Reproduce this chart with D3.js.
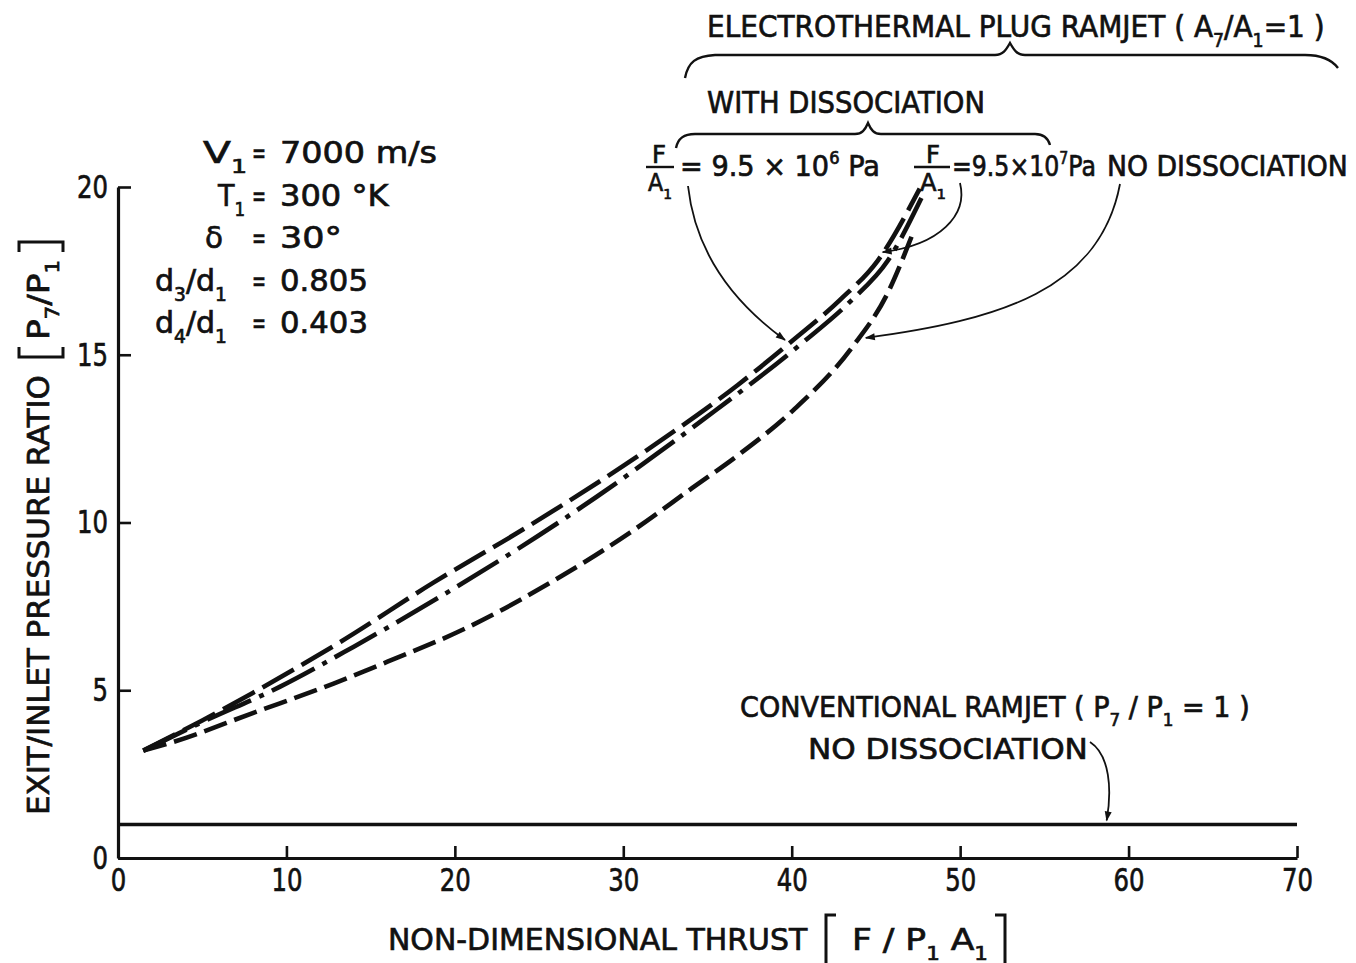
<!DOCTYPE html>
<html>
<head>
<meta charset="utf-8">
<script src="https://cdn.jsdelivr.net/npm/d3@7/dist/d3.min.js"></script>
<style>
  html, body { margin: 0; padding: 0; background: #fff; }
  svg { display: block; }
  text { font-family: "DejaVu Sans", "Liberation Sans", sans-serif; fill: #111; stroke: #111; stroke-width: 0.7px; }
</style>
</head>
<body>
<svg id="chart" width="1356" height="963"></svg>
<script>
// Axis ticks
const xTicks = [0, 10, 20, 30, 40, 50, 60, 70];
const yTicks = [0, 5, 10, 15, 20];

// Electrothermal plug ramjet, with dissociation, F/A1 = 9.5e6 Pa (long dash)
const thrustA = [1.5, 5, 8, 13.2, 18.7, 24.3, 31.4, 36.8, 40, 42.9, 45.1, 47.6];
const ratioA  = [3.2, 4.1, 4.92, 6.44, 8.2, 9.87, 12.16, 14.1, 15.4, 16.65, 17.8, 19.95];

// With dissociation, F/A1 = 9.5e7 Pa (dash-dot)
const thrustB = [1.5, 5, 9.6, 14, 19.1, 28.4, 34.7, 40.5, 43.5, 45.7, 47.7];
const ratioB  = [3.2, 4.05, 5.1, 6.3, 7.78, 10.76, 13.05, 15.3, 16.6, 17.8, 19.67];

// No dissociation (short dash)
const thrustC = [1.5, 3.3, 8, 12.8, 16, 20.7, 25.65, 30.4, 34.1, 36.8, 40.1, 43.6, 45.7, 47.2];
const ratioC  = [3.2, 3.46, 4.32, 5.2, 5.85, 6.86, 8.2, 9.7, 11.03, 12.0, 13.35, 15.23, 16.84, 18.63];

// Conventional ramjet, P7/P1 = 1
const thrustConv = [0, 70];
const ratioConv  = [1, 1];

const svg = d3.select("#chart");
const x = d3.scaleLinear().domain([0, 70]).range([118, 1297]);
const y = d3.scaleLinear().domain([0, 20]).range([858, 187]);

const zip = (xs, ys) => xs.map((v, i) => [v, ys[i]]);
const line = d3.line().x(d => x(d[0])).y(d => y(d[1])).curve(d3.curveMonotoneX);

// arrow head marker
const defs = svg.append("defs");
defs.append("marker")
  .attr("id", "arrow").attr("viewBox", "0 0 10 10")
  .attr("refX", 9).attr("refY", 5)
  .attr("markerWidth", 14).attr("markerHeight", 10)
  .attr("markerUnits", "userSpaceOnUse")
  .attr("orient", "auto")
  .append("path").attr("d", "M0,1.5 L10,5 L0,8.5 Z").attr("fill", "#111");

// ---- axes ----
const xAxis = svg.append("g").attr("transform", `translate(0,${y(0)})`)
  .call(d3.axisBottom(x).tickValues(xTicks).tickSizeInner(-12).tickSizeOuter(0).tickPadding(10).tickFormat(d3.format("d")));
const yAxis = svg.append("g").attr("transform", `translate(${x(0)},0)`)
  .call(d3.axisLeft(y).tickValues(yTicks).tickSizeInner(-13).tickSizeOuter(0).tickPadding(10).tickFormat(d3.format("d")));

[xAxis, yAxis].forEach(a => {
  a.select(".domain").attr("stroke", "#111").attr("stroke-width", 3.2);
  a.selectAll(".tick line").attr("stroke", "#111").attr("stroke-width", 2.6);
  a.selectAll(".tick text").attr("font-size", 32).attr("fill", "#111")
    .attr("font-family", "DejaVu Sans");
});
xAxis.selectAll(".tick text").attr("dy", "0.72em");
// condense tick digits to the lettering width
[xAxis, yAxis].forEach(a => a.selectAll(".tick text").each(function () {
  const n = this.textContent.length;
  d3.select(this).attr("textLength", n * 15.5).attr("lengthAdjust", "spacingAndGlyphs");
}));

// ---- curves ----
const curves = svg.append("g").attr("fill", "none").attr("stroke", "#111");
curves.append("path").attr("d", line(zip(thrustConv, ratioConv)))
  .attr("stroke-width", 3.6);
curves.append("path").attr("d", line(zip(thrustA, ratioA)))
  .attr("stroke-width", 4.6).attr("stroke-dasharray", "36,9");
curves.append("path").attr("d", line(zip(thrustB, ratioB)))
  .attr("stroke-width", 4.6).attr("stroke-dasharray", "48,9,5,9");
curves.append("path").attr("d", line(zip(thrustC, ratioC)))
  .attr("stroke-width", 4.6).attr("stroke-dasharray", "24,8");

// ---- text helpers ----
// parts: [text, "n" | "sub" | "sup"]; the run is scaled horizontally to `width`
function label(parent, x0, y0, parts, size, width) {
  const t = parent.append("text").attr("x", x0).attr("y", y0).attr("font-size", size);
  let shift = 0;
  parts.forEach(([s, kind]) => {
    const ts = t.append("tspan").text(s);
    let target = 0, fs = size;
    if (kind === "sub") { target = size * 0.32; fs = size * 0.62; }
    if (kind === "sup") { target = -size * 0.42; fs = size * 0.6; }
    ts.attr("dy", target - shift).attr("font-size", fs);
    shift = target;
  });
  if (width) {
    const w = t.node().getBBox().width;
    const sx = width / w;
    t.attr("transform", `translate(${x0},0) scale(${sx},1) translate(${-x0},0)`);
  }
  return t;
}
function rule(parent, x1, y1, x2, y2, w) {
  parent.append("line").attr("x1", x1).attr("y1", y1).attr("x2", x2).attr("y2", y2)
    .attr("stroke", "#111").attr("stroke-width", w || 2.4);
}

const ann = svg.append("g");

// ---- header braces and labels ----
label(ann, 707, 37, [["ELECTROTHERMAL  PLUG RAMJET ( A", "n"], ["7", "sub"], ["/A", "n"], ["1", "sub"], ["=1 )", "n"]], 30, 618);
ann.append("path")
  .attr("d", "M685,78 C688,62 696,56 715,55 L995,55 C1003,55 1006,50 1010,43 C1014,50 1017,55 1025,55 L1305,55 C1322,55 1332,60 1338,68")
  .attr("fill", "none").attr("stroke", "#111").attr("stroke-width", 2.4);

label(ann, 707, 113, [["WITH DISSOCIATION", "n"]], 30, 278);
ann.append("path")
  .attr("d", "M676,148 C678,138 684,134 695,134 L855,134 C862,134 865,130 868,123 C871,130 874,134 881,134 L1035,134 C1043,134 1048,138 1050,145")
  .attr("fill", "none").attr("stroke", "#111").attr("stroke-width", 2.4);

// F/A1 = 9.5 x 10^6 Pa
label(ann, 652, 163, [["F", "n"]], 24, 14);
rule(ann, 646, 167, 674, 167, 2.4);
label(ann, 648, 191, [["A", "n"], ["1", "sub"]], 24, 24);
label(ann, 680, 176, [["= 9.5 × 10", "n"], ["6", "sup"], [" Pa", "n"]], 28, 200);

// F/A1 = 9.5 x 10^7 Pa  NO DISSOCIATION
label(ann, 926, 163, [["F", "n"]], 24, 14);
rule(ann, 914, 167, 950, 167, 2.4);
label(ann, 920, 191, [["A", "n"], ["1", "sub"]], 24, 26);
label(ann, 952, 176, [["=9.5×10", "n"], ["7", "sup"], ["Pa", "n"]], 28, 144);
label(ann, 1107, 176, [["NO DISSOCIATION", "n"]], 28, 241);

// ---- flight condition block ----
label(ann, 203, 163, [["V", "n"], ["1", "sub"]], 30, 44);
label(ann, 218, 206, [["T", "n"], ["1", "sub"]], 30, 28);
label(ann, 205, 248, [["δ", "n"]], 30, 18);
label(ann, 155, 291, [["d", "n"], ["3", "sub"], ["/d", "n"], ["1", "sub"]], 30, 72);
label(ann, 155, 333, [["d", "n"], ["4", "sub"], ["/d", "n"], ["1", "sub"]], 30, 72);
[163, 206, 248, 291, 333].forEach(b => label(ann, 252, b, [["=", "n"]], 30, 14));
label(ann, 280, 163, [["7000 m/s", "n"]], 30, 157);
label(ann, 280, 206, [["300 °K", "n"]], 30, 110);
label(ann, 280, 248, [["30°", "n"]], 30, 62);
label(ann, 280, 291, [["0.805", "n"]], 30, 88);
label(ann, 280, 333, [["0.403", "n"]], 30, 88);

// ---- conventional ramjet ----
label(ann, 740, 717, [["CONVENTIONAL  RAMJET ( P", "n"], ["7", "sub"], [" / P", "n"], ["1", "sub"], [" = 1 )", "n"]], 28, 510);
label(ann, 808, 759, [["NO  DISSOCIATION", "n"]], 28, 280);

// ---- axis titles ----
label(svg, 388, 950, [["NON-DIMENSIONAL  THRUST", "n"]], 30, 420);
label(svg, 852, 950, [["F  /  P", "n"], ["1", "sub"], [" A", "n"], ["1", "sub"]], 30, 136);
// brackets
svg.append("path").attr("d", "M836,915 L826,915 L826,965 L836,965").attr("fill", "none").attr("stroke", "#111").attr("stroke-width", 3);
svg.append("path").attr("d", "M995,915 L1005,915 L1005,965 L995,965").attr("fill", "none").attr("stroke", "#111").attr("stroke-width", 3);

const yt = svg.append("g").attr("transform", "translate(49,815) rotate(-90)");
label(yt, 0, 0, [["EXIT/INLET  PRESSURE  RATIO", "n"]], 30, 440);
label(yt, 475, 0, [["P", "n"], ["7", "sub"], ["/P", "n"], ["1", "sub"]], 30, 80);
yt.append("path").attr("d", "M468,-30 L458,-30 L458,14 L468,14").attr("fill", "none").attr("stroke", "#111").attr("stroke-width", 3);
yt.append("path").attr("d", "M563,-30 L573,-30 L573,14 L563,14").attr("fill", "none").attr("stroke", "#111").attr("stroke-width", 3);

// ---- leader arrows to the curves ----
const leaders = svg.append("g").attr("fill", "none").attr("stroke", "#111").attr("stroke-width", 1.8);
const tipA = [x(39.6), y(15.44)];
const tipB = [x(45.4), y(18.06)];
const tipC = [x(44.4), y(15.5)];
const tipConv = [x(58.7), y(1.12)];
leaders.append("path").attr("d", `M688,186 C695,250 730,300 ${tipA[0]},${tipA[1]}`).attr("marker-end", "url(#arrow)");
leaders.append("path").attr("d", `M960,183 C968,215 940,245 ${tipB[0]},${tipB[1]}`).attr("marker-end", "url(#arrow)");
leaders.append("path").attr("d", `M1120,184 C1100,290 1000,320 ${tipC[0]},${tipC[1]}`).attr("marker-end", "url(#arrow)");
leaders.append("path").attr("d", `M1090,742 C1110,755 1112,790 ${tipConv[0]},${tipConv[1]}`).attr("marker-end", "url(#arrow)");
</script>
</body>
</html>
